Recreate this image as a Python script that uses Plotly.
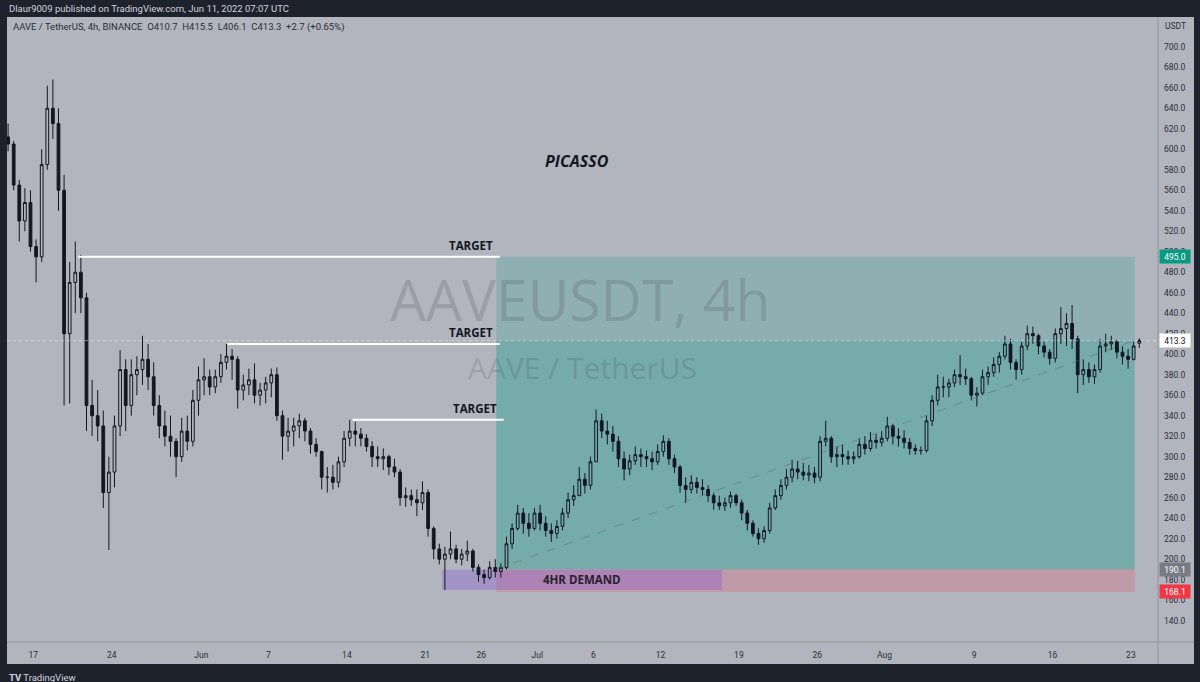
import pandas as pd
import plotly.graph_objects as go

# ---------------- data (12h candles) ----------------
times = pd.date_range("2021-05-14 12:00", periods=203, freq="12h")

opens = [612, 605, 565, 530, 548, 505, 495, 585, 640, 625,
         560, 420, 470, 480, 455, 350, 340, 330, 265, 285,
         330, 385, 350, 380, 385, 395, 378, 350, 330, 320,
         315, 300, 325, 315, 355, 375, 378, 368, 378, 392,
         398, 395, 365, 370, 375, 360, 365, 372, 380, 340,
         320, 325, 330, 335, 325, 312, 305, 280, 280, 275,
         295, 318, 325, 322, 318, 310, 300, 298, 300, 290,
         285, 260, 262, 258, 255, 265, 230, 210, 200, 205,
         210, 200, 205, 208, 192, 185, 182, 192, 188, 192,
         215, 230, 245, 235, 230, 245, 235, 228, 225, 232,
         245, 258, 262, 278, 272, 295, 335, 325, 322, 315,
         298, 288, 296, 302, 300, 298, 295, 305, 315, 298,
         290, 272, 268, 275, 270, 268, 262, 255, 252, 255,
         262, 255, 245, 235, 225, 220, 228, 250, 262, 272,
         280, 288, 285, 282, 284, 280, 315, 318, 300, 302,
         300, 298, 300, 312, 308, 316, 314, 318, 330, 320,
         318, 314, 308, 306, 306, 335, 355, 368, 368, 372,
         380, 378, 376, 360, 362, 378, 382, 390, 398, 410,
         392, 385, 408, 420, 418, 408, 402, 396, 420, 425,
         430, 415, 380, 385, 378, 385, 408, 410, 412, 402,
         398, 395, 410.7]

highs = [625, 608, 570, 562, 560, 512, 600, 662, 668, 640,
         575, 490, 510, 497, 460, 375, 365, 345, 300, 340,
         404, 395, 395, 398, 418, 410, 392, 360, 345, 340,
         318, 338, 340, 365, 388, 396, 385, 385, 400, 410,
         405, 398, 380, 386, 391, 372, 378, 386, 387, 345,
         338, 338, 342, 338, 328, 318, 306, 290, 292, 300,
         325, 336, 334, 328, 322, 315, 310, 308, 302, 298,
         288, 270, 268, 268, 276, 268, 232, 215, 212, 227,
         214, 210, 218, 210, 195, 190, 198, 200, 196, 222,
         235, 253, 250, 245, 250, 253, 242, 235, 238, 250,
         265, 272, 290, 284, 300, 346, 342, 335, 330, 320,
         305, 302, 310, 308, 306, 305, 312, 321, 318, 302,
         292, 280, 282, 280, 278, 272, 265, 262, 260, 266,
         264, 258, 248, 238, 230, 232, 255, 268, 278, 288,
         297, 296, 294, 292, 290, 320, 335, 320, 310, 312,
         306, 305, 318, 320, 324, 322, 325, 339, 332, 328,
         326, 318, 312, 310, 340, 360, 380, 378, 376, 385,
         399, 386, 378, 368, 385, 388, 397, 402, 418, 415,
         395, 412, 428, 427, 420, 412, 405, 425, 446, 440,
         448, 418, 395, 392, 390, 415, 420, 418, 414, 408,
         405, 412, 415.5]

lows = [598, 560, 510, 520, 500, 470, 490, 580, 610, 540,
        350, 352, 440, 440, 325, 320, 315, 250, 209, 270,
        320, 325, 340, 360, 370, 365, 340, 318, 310, 300,
        280, 295, 306, 310, 340, 360, 360, 362, 372, 385,
        375, 347, 355, 360, 352, 350, 352, 358, 335, 297,
        305, 310, 318, 315, 303, 300, 268, 265, 268, 270,
        290, 310, 310, 310, 305, 290, 290, 287, 282, 280,
        252, 251, 252, 242, 248, 222, 200, 195, 170, 200,
        196, 194, 198, 188, 178, 176, 180, 182, 182, 190,
        210, 228, 225, 222, 228, 228, 222, 217, 220, 228,
        240, 252, 262, 264, 268, 295, 318, 312, 305, 290,
        277, 282, 292, 290, 290, 287, 292, 300, 292, 284,
        265, 255, 264, 264, 262, 256, 248, 248, 247, 250,
        252, 238, 228, 222, 214, 216, 225, 248, 258, 268,
        275, 278, 277, 276, 274, 276, 310, 294, 290, 292,
        292, 293, 298, 302, 305, 308, 310, 315, 312, 310,
        308, 302, 302, 302, 304, 330, 350, 358, 358, 368,
        370, 370, 355, 349, 360, 370, 378, 382, 395, 385,
        375, 380, 404, 410, 400, 397, 390, 392, 410, 408,
        405, 362, 370, 372, 371, 382, 402, 404, 396, 390,
        386, 394, 406.1]

closes = [605, 565, 530, 548, 505, 495, 585, 640, 625, 560,
          420, 470, 480, 455, 350, 340, 330, 265, 285, 330,
          385, 350, 380, 385, 395, 378, 350, 330, 320, 315,
          300, 325, 315, 355, 375, 378, 368, 378, 392, 398,
          395, 365, 370, 375, 360, 365, 372, 380, 340, 320,
          325, 330, 335, 325, 312, 305, 280, 280, 275, 295,
          318, 325, 322, 318, 310, 300, 298, 300, 290, 285,
          260, 262, 258, 255, 265, 230, 210, 200, 205, 210,
          200, 205, 208, 192, 185, 182, 192, 188, 192, 215,
          230, 245, 235, 230, 245, 235, 228, 225, 232, 245,
          258, 262, 278, 272, 295, 335, 325, 322, 315, 298,
          288, 296, 302, 300, 298, 295, 305, 315, 298, 290,
          272, 268, 275, 270, 268, 262, 255, 252, 255, 262,
          255, 245, 235, 225, 220, 228, 250, 262, 272, 280,
          288, 285, 282, 284, 280, 315, 318, 300, 302, 300,
          298, 300, 312, 308, 316, 314, 318, 330, 320, 318,
          314, 308, 306, 306, 335, 355, 368, 368, 372, 380,
          378, 376, 360, 362, 378, 382, 390, 398, 410, 392,
          385, 408, 420, 418, 408, 402, 396, 420, 425, 430,
          415, 380, 385, 378, 385, 408, 410, 412, 402, 398,
          395, 408, 413.3]

y_ticks = list(range(140, 701, 20))
x_tick_dates = ["2021-05-17", "2021-05-24", "2021-06-01", "2021-06-07", "2021-06-14",
                "2021-06-21", "2021-06-26", "2021-07-01", "2021-07-06", "2021-07-12",
                "2021-07-19", "2021-07-26", "2021-08-01", "2021-08-09", "2021-08-16",
                "2021-08-23"]
x_tick_text = ["17", "24", "Jun", "7", "14", "21", "26", "Jul", "6", "12",
               "19", "26", "Aug", "9", "16", "23"]

# position tool / drawings
entry_time, exit_time = "2021-06-27 08:00", "2021-08-23 08:00"
entry_price, target_price, stop_price, last_price = 190.1, 495.0, 168.1, 413.3
demand_x = ["2021-06-22 12:00", "2021-07-17 12:00"]
demand_y = [170.0, 189.8]
target_levels = [495.0, 410.0, 336.0]
target_starts = ["2021-05-21 00:00", "2021-06-03 08:00", "2021-06-14 12:00"]
target_ends = ["2021-06-27 16:00", "2021-06-27 16:00", "2021-06-28 00:00"]
target_label_x = ["2021-06-27 05:00", "2021-06-27 05:00", "2021-06-27 14:00"]

# ---------------- figure ----------------
W, H = 1200, 682
L, R, T, B = 7, 1158, 17, 642          # plot area in pixels


def px(x):
    return (x - L) / (R - L)


def py(y):
    return (B - y) / (B - T)


DARK = "#1e222d"
PANEL = "#b2b5be"
TXT = "#2a2e39"

fig = go.Figure()
fig.add_trace(go.Candlestick(
    x=times, open=opens, high=highs, low=lows, close=closes,
    xperiod=12 * 3600 * 1000, xperiodalignment="middle",
    increasing=dict(line=dict(color="#131722", width=1), fillcolor="rgba(0,0,0,0)"),
    decreasing=dict(line=dict(color="#131722", width=1), fillcolor="#131722"),
    whiskerwidth=0, hoverinfo="skip", showlegend=False,
))

shapes = []
# chart panel
shapes.append(dict(type="rect", xref="paper", yref="paper", x0=px(7), x1=px(1194),
                   y0=py(664), y1=py(17), fillcolor=PANEL, line=dict(width=0), layer="below"))
# long position zones
shapes.append(dict(type="rect", xref="x", yref="y", x0=entry_time, x1=exit_time,
                   y0=entry_price, y1=target_price, fillcolor="rgba(8,153,129,0.2)",
                   line=dict(width=0), layer="below"))
shapes.append(dict(type="rect", xref="x", yref="y", x0=entry_time, x1=exit_time,
                   y0=entry_price, y1=last_price, fillcolor="rgba(8,153,129,0.2)",
                   line=dict(width=0), layer="below"))
shapes.append(dict(type="rect", xref="x", yref="y", x0=entry_time, x1=exit_time,
                   y0=stop_price, y1=entry_price, fillcolor="rgba(242,54,69,0.2)",
                   line=dict(width=0), layer="below"))
# demand zone
shapes.append(dict(type="rect", xref="x", yref="y", x0=demand_x[0], x1=demand_x[1],
                   y0=demand_y[0], y1=demand_y[1], fillcolor="rgba(130,80,210,0.32)",
                   line=dict(width=0), layer="below"))
# entry -> current dashed line
shapes.append(dict(type="line", xref="x", yref="y", x0=entry_time, x1=exit_time,
                   y0=entry_price, y1=last_price,
                   line=dict(color="rgba(95,100,110,0.5)", width=1, dash="dash")))
# last price line
shapes.append(dict(type="line", xref="paper", yref="y", x0=0, x1=1, y0=last_price, y1=last_price,
                   line=dict(color="rgba(240,242,246,0.45)", width=1, dash="dot")))
# target lines
for lv, x0, x1 in zip(target_levels, target_starts, target_ends):
    shapes.append(dict(type="line", xref="x", yref="y", x0=x0, x1=x1, y0=lv, y1=lv,
                       line=dict(color="#ffffff", width=2)))
# axis borders
shapes.append(dict(type="line", xref="paper", yref="paper", x0=px(7), x1=px(1194), y0=0, y1=0,
                   line=dict(color="#8f929b", width=1)))
shapes.append(dict(type="line", xref="paper", yref="paper", x0=1, x1=1, y0=py(664), y1=py(17),
                   line=dict(color="#8f929b", width=1)))

ann = []
ann.append(dict(xref="paper", yref="paper", x=px(7), y=py(8.5), xanchor="left", yanchor="middle",
                text="Dlaur9009 published on TradingView.com, Jun 11, 2022 07:07 UTC",
                showarrow=False, font=dict(family="Roboto", size=9.5, color="#d1d4dc")))
ann.append(dict(xref="paper", yref="paper", x=px(11), y=py(27), xanchor="left", yanchor="middle",
                text="AAVE / TetherUS, 4h, BINANCE  O410.7  H415.5  L406.1  C413.3  +2.7 (+0.65%)",
                showarrow=False, font=dict(family="Roboto", size=9.5, color=TXT)))
ann.append(dict(xref="paper", yref="paper", x=px(1163), y=py(26), xanchor="left", yanchor="middle",
                text="USDT", showarrow=False, font=dict(family="Roboto", size=8.5, color=TXT)))
ann.append(dict(xref="paper", yref="paper", x=px(7), y=py(677), xanchor="left", yanchor="middle",
                text="<b>TV</b> TradingView", showarrow=False,
                font=dict(family="Roboto", size=9.5, color="#d1d4dc")))
# watermark
ann.append(dict(xref="paper", yref="paper", x=px(580), y=py(299), xanchor="center", yanchor="middle",
                text="AAVEUSDT, 4h", showarrow=False,
                font=dict(family="Open Sans", size=57, color="rgba(67,70,81,0.2)")))
ann.append(dict(xref="paper", yref="paper", x=px(582), y=py(367), xanchor="center", yanchor="middle",
                text="AAVE / TetherUS", showarrow=False,
                font=dict(family="Open Sans", size=30, color="rgba(67,70,81,0.2)")))
# PICASSO
ann.append(dict(xref="paper", yref="paper", x=px(577), y=py(161), xanchor="center", yanchor="middle",
                text="<b><i>PICASSO</i></b>", showarrow=False,
                font=dict(family="Open Sans", size=16, color="#131722")))
# targets
for lv, lx in zip(target_levels, target_label_x):
    ann.append(dict(xref="x", yref="y", x=lx, y=lv, xanchor="right", yanchor="middle", yshift=11,
                    text="<b>TARGET</b>", showarrow=False,
                    font=dict(family="Open Sans", size=11.5, color="#131722")))
ann.append(dict(xref="x", yref="y", x="2021-07-05 00:00", y=(demand_y[0] + demand_y[1]) / 2,
                xanchor="center", yanchor="middle", text="<b>4HR DEMAND</b>", showarrow=False,
                font=dict(family="Open Sans", size=11.5, color="#2a1f2e")))
# price badges
for val, bg, fg in [(target_price, "#089981", "#ffffff"), (last_price, "#ffffff", "#131722"),
                    (entry_price, "#787b86", "#ffffff"), (stop_price, "#f23645", "#ffffff")]:
    ann.append(dict(xref="paper", yref="y", x=1, y=val, xanchor="left", yanchor="middle",
                    text=f"{val:.1f}", showarrow=False, bgcolor=bg, width=28, height=11,
                    borderpad=1, align="center", xshift=1,
                    font=dict(family="Roboto", size=8.5, color=fg)))

fig.update_layout(
    width=W, height=H,
    margin=dict(l=L, r=W - R, t=T, b=H - B, pad=0),
    paper_bgcolor=DARK, plot_bgcolor="rgba(0,0,0,0)",
    shapes=shapes, annotations=ann, showlegend=False,
    hovermode=False,
    xaxis=dict(
        type="date", range=["2021-05-14 15:40", "2021-08-25 10:05"],
        rangeslider=dict(visible=False), showgrid=False, zeroline=False, showline=False,
        tickvals=x_tick_dates, ticktext=x_tick_text, ticks="", ticklabelstandoff=6,
        tickfont=dict(family="Roboto", size=8.5, color=TXT), fixedrange=True,
    ),
    yaxis=dict(
        side="right", range=[119.2, 729.0], showgrid=False, zeroline=False, showline=False,
        tickvals=y_ticks, ticktext=[f"{v:.1f}" for v in y_ticks], ticks="",
        ticklabelstandoff=5, tickfont=dict(family="Roboto", size=8.5, color=TXT),
        fixedrange=True,
    ),
)

fig.write_html("out.html", config={"displayModeBar": False},
               post_script="document.body.style.margin='0';")
